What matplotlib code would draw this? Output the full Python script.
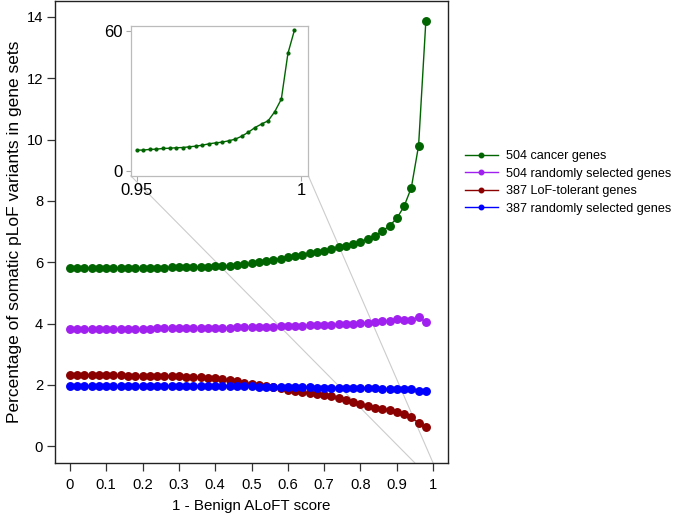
import matplotlib
matplotlib.use("Agg")
import matplotlib.pyplot as plt
from matplotlib.patches import ConnectionPatch
import numpy as np

plt.rcParams['font.family'] = ['Liberation Sans', 'DejaVu Sans']

# ---- data ----
score = [round(0.02 * i, 2) for i in range(50)]

cancer_504 = [5.81, 5.81, 5.81, 5.81, 5.81, 5.81, 5.81, 5.81, 5.81, 5.82,
              5.82, 5.82, 5.82, 5.82, 5.83, 5.83, 5.83, 5.84, 5.84, 5.85,
              5.86, 5.87, 5.89, 5.91, 5.93, 5.96, 6.00, 6.04, 6.08, 6.12,
              6.16, 6.20, 6.24, 6.29, 6.33, 6.38, 6.43, 6.48, 6.54, 6.60,
              6.67, 6.75, 6.85, 7.01, 7.19, 7.43, 7.82, 8.43, 9.80, 13.86]

random_504 = [3.82, 3.82, 3.82, 3.82, 3.82, 3.82, 3.83, 3.83, 3.83, 3.83,
              3.83, 3.83, 3.84, 3.84, 3.84, 3.84, 3.84, 3.85, 3.85, 3.85,
              3.85, 3.86, 3.86, 3.87, 3.87, 3.88, 3.89, 3.89, 3.90, 3.91,
              3.92, 3.93, 3.93, 3.94, 3.94, 3.95, 3.96, 3.97, 3.98, 4.00,
              4.01, 4.03, 4.05, 4.07, 4.08, 4.16, 4.11, 4.11, 4.21, 4.05]

lof_tolerant_387 = [2.31, 2.31, 2.31, 2.31, 2.31, 2.31, 2.31, 2.31, 2.30, 2.30,
                    2.30, 2.30, 2.30, 2.29, 2.29, 2.28, 2.27, 2.26, 2.25, 2.23,
                    2.21, 2.18, 2.15, 2.11, 2.07, 2.03, 1.99, 1.96, 1.93, 1.89,
                    1.84, 1.79, 1.76, 1.73, 1.70, 1.67, 1.62, 1.57, 1.51, 1.44,
                    1.37, 1.31, 1.26, 1.22, 1.18, 1.12, 1.05, 0.94, 0.76, 0.61]

random_387 = [1.96, 1.96, 1.96, 1.96, 1.96, 1.96, 1.96, 1.96, 1.96, 1.96,
              1.96, 1.96, 1.96, 1.96, 1.96, 1.96, 1.96, 1.96, 1.97, 1.97,
              1.97, 1.97, 1.97, 1.96, 1.96, 1.95, 1.94, 1.93, 1.93, 1.92,
              1.92, 1.92, 1.92, 1.92, 1.91, 1.91, 1.91, 1.91, 1.91, 1.91,
              1.90, 1.90, 1.89, 1.87, 1.85, 1.85, 1.86, 1.88, 1.81, 1.80]

inset_score = [round(0.95 + 0.002 * i, 3) for i in range(25)]
inset_cancer = [8.9, 8.9, 9.2, 9.3, 9.6, 9.7, 9.9, 10.0, 10.3, 10.6,
                11.0, 11.6, 12.0, 12.3, 12.9, 13.6, 14.9, 16.6, 18.6, 20.1,
                21.5, 25.4, 30.8, 50.4, 60.5]

labels = ["504 cancer genes", "504 randomly selected genes",
          "387 LoF-tolerant genes", "387 randomly selected genes"]
colors = ["#006400", "#A020F0", "#8B0000", "#0000FF"]

xticks = [0, 0.1, 0.2, 0.3, 0.4, 0.5, 0.6, 0.7, 0.8, 0.9, 1]
xticklabels = ["0", "0.1", "0.2", "0.3", "0.4", "0.5", "0.6", "0.7", "0.8", "0.9", "1"]
yticks = [0, 2, 4, 6, 8, 10, 12, 14]

# ---- figure ----
fig = plt.figure(figsize=(6.75, 5.16), dpi=100)
ax = fig.add_axes([55 / 675, 1 - 463 / 516, (448 - 55) / 675, (463 - 1) / 516])

series = [cancer_504, random_504, lof_tolerant_387, random_387]
handles = []
for vals, lab, col in zip(series, labels, colors):
    h, = ax.plot(score, vals, '-o', color=col, lw=1.0, ms=5.4, mec=col,
                 label=lab, zorder=3)
    handles.append(h)

ax.set_xlim(-0.041, 1.041)
ax.set_ylim(-0.55, 14.52)
ax.set_xticks(xticks)
ax.set_xticklabels(xticklabels)
ax.set_yticks(yticks)
ax.tick_params(axis='both', direction='out', length=5.5, width=0.9,
               labelsize=10.6, color='#333333')
ax.tick_params(axis='x', pad=5)
ax.tick_params(axis='y', pad=3)
for s in ax.spines.values():
    s.set_linewidth(1.0)
    s.set_color('#222222')
ax.set_xlabel("1 - Benign ALoFT score", fontsize=10.9, labelpad=5)
ax.set_ylabel("Percentage of somatic pLoF variants in gene sets", fontsize=12.5,
              labelpad=3)

# ---- inset ----
axin = fig.add_axes([130.7 / 675, 1 - 175.7 / 516, (308.3 - 130.7) / 675,
                     (175.7 - 26) / 516])
axin.plot(inset_score, inset_cancer, '-o', color="#006400", lw=1.0, ms=2.0)
axin.set_xlim(0.9482, 1.0022)
axin.set_ylim(-2.1, 62.2)
axin.set_xticks([0.95, 1])
axin.set_xticklabels(["0.95", "1"])
axin.set_yticks([0, 60])
axin.tick_params(axis='both', direction='out', length=3.5, width=0.8,
                 color='#aaaaaa', labelsize=12)
axin.tick_params(axis='x', pad=1.5)
axin.tick_params(axis='y', pad=2)
for s in axin.spines.values():
    s.set_color('#bbbbbb')
    s.set_linewidth(0.9)

# connection lines
y0 = ax.get_ylim()[0]
for xa, xb in [(0, 0.95), (1, 1.0)]:
    con = ConnectionPatch(xyA=(xa, 0), coordsA=axin.transAxes,
                          xyB=(xb, y0), coordsB=ax.transData,
                          color='#cccccc', lw=0.8, zorder=1)
    ax.add_artist(con)

# legend
fig.legend(handles=handles, labels=labels, loc='center left',
           bbox_to_anchor=(465 / 675, 1 - 182.4 / 516), frameon=False,
           fontsize=9.1, handlelength=2.6, handletextpad=0.62,
           labelspacing=0.43, borderpad=0, borderaxespad=0, markerscale=0.6)

fig.savefig("out.png", dpi=100)
